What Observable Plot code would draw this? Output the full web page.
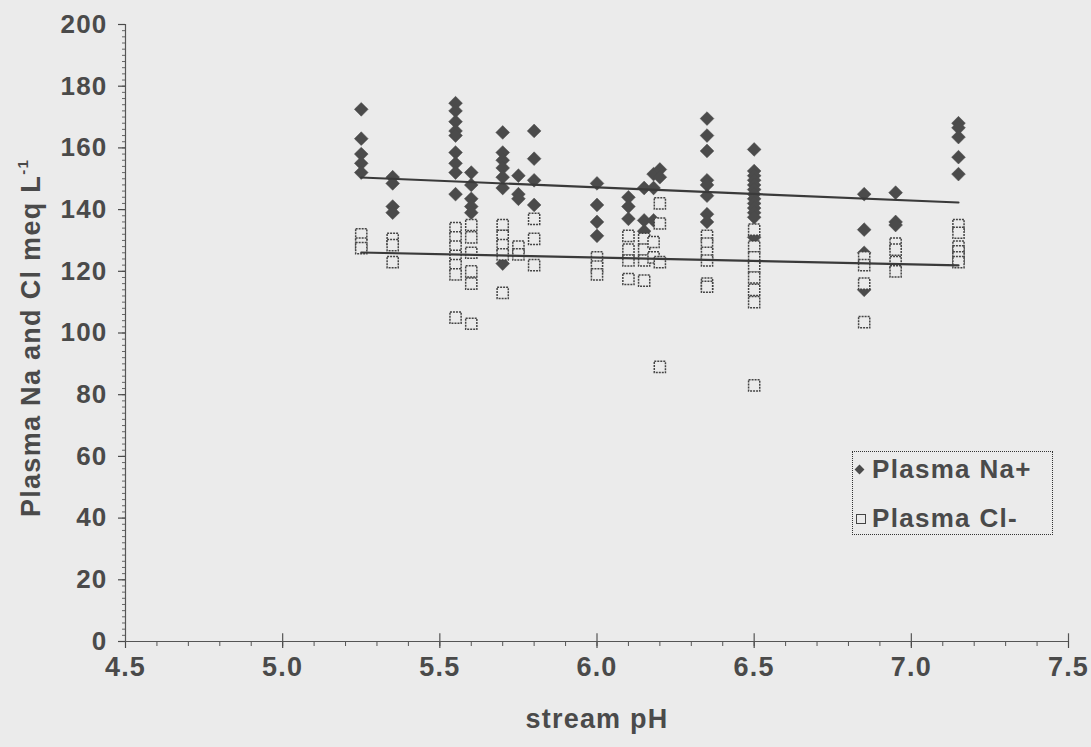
<!DOCTYPE html>
<html>
<head>
<meta charset="utf-8">
<script src="https://cdn.jsdelivr.net/npm/d3@7"></script>
<script src="https://cdn.jsdelivr.net/npm/@observablehq/plot@0.6"></script>
<style>
  html, body { margin: 0; padding: 0; background: #ebebeb; }
  #wrap { position: relative; width: 1091px; height: 747px; font-family: "Liberation Sans", Arial, sans-serif; color: #4a4a4a; }
  #chart svg text { letter-spacing: 1.2px; }
  #ylab { position: absolute; left: 30px; top: 338px; transform: translate(-50%, -50%) rotate(-90deg); white-space: nowrap; font-weight: bold; font-size: 27px; letter-spacing: 1.3px; }
  #ylab sup { font-size: 15px; vertical-align: 12px; }
  #legend { position: absolute; left: 852px; top: 451px; width: 201px; height: 84px; border: 1px dotted #333; box-sizing: border-box; }
  .lrow { position: absolute; left: 0; font-weight: bold; font-size: 26px; letter-spacing: 1.3px; white-space: nowrap; }
  .sym { position: absolute; }
</style>
</head>
<body>
<div id="wrap">
  <div id="chart"></div>
  <div id="ylab">Plasma Na and Cl meq L<sup>-1</sup></div>
  <div id="legend">
    <div class="sym" style="left:3px;top:14px;width:7px;height:7px;background:#4b4b4b;transform:rotate(45deg);"></div>
    <div class="lrow" style="left:19px;top:2px;">Plasma Na+</div>
    <div class="sym" style="left:3px;top:62px;width:8px;height:8px;border:1px solid #444;"></div>
    <div class="lrow" style="left:19px;top:51px;">Plasma Cl-</div>
  </div>
</div>
<script>
// stream pH groups
const phGroups = [5.25, 5.35, 5.55, 5.6, 5.7, 5.75, 5.8, 6.0, 6.1, 6.15, 6.18, 6.2, 6.35, 6.5, 6.85, 6.95, 7.15];
// Plasma Na+ (meq/L) per pH group
const naValues = [
  [172.5, 163, 158, 155, 152],
  [150.5, 148.5, 141, 139],
  [174.5, 172, 168.5, 165.5, 164, 158.5, 155, 152, 145],
  [152, 148, 143.5, 141, 139],
  [165, 158.5, 156, 153.5, 150.5, 147, 122.5],
  [151, 145, 143.5],
  [165.5, 156.5, 149.5, 141.5],
  [148.5, 141.5, 136, 131.5],
  [144, 141, 137],
  [147, 136.5, 133],
  [151.5, 147, 136.5],
  [153, 150.5],
  [169.5, 164, 159, 149.5, 148, 144.5, 138.5, 136],
  [159.5, 152.5, 151, 149.5, 148, 146.5, 145, 143.5, 142, 140.5, 139, 137.5, 131],
  [145, 133.5, 126, 114],
  [145.5, 136, 135],
  [168, 166.5, 163.5, 157, 151.5]
];
// Plasma Cl- (meq/L) per pH group
const clValues = [
  [132, 129, 127.5],
  [130.5, 128.5, 123],
  [134, 131, 128, 125, 122, 119, 105],
  [135, 131, 126, 120, 116, 103],
  [135, 131.5, 128.5, 125.5, 113],
  [128, 125.5],
  [137, 130.5, 122],
  [124.5, 121.5, 119],
  [131.5, 127, 123.5, 117.5],
  [130.5, 127, 123.5, 117],
  [129.5, 124.5],
  [142, 135.5, 123, 89],
  [131.5, 129, 126, 123.5, 116, 115],
  [133.5, 128, 124.5, 121.5, 118, 114, 110, 83],
  [124.5, 122, 116, 103.5],
  [129, 127, 123, 120],
  [135, 132.5, 128, 126.5, 124.5, 123]
];
// trend lines as drawn in the figure (end points)
const trendPH = [5.25, 7.15];
const naTrend = [150.4, 142.3];
const clTrend = [126.1, 121.9];

const xTicks = [4.5, 5.0, 5.5, 6.0, 6.5, 7.0, 7.5];
const yTicks = [0, 20, 40, 60, 80, 100, 120, 140, 160, 180, 200];
const xLabel = "stream pH";

const na = phGroups.flatMap((p, i) => naValues[i].map(v => ({ph: p, v})));
const cl = phGroups.flatMap((p, i) => clValues[i].map(v => ({ph: p, v})));
const naLine = trendPH.map((p, i) => ({ph: p, v: naTrend[i]}));
const clLine = trendPH.map((p, i) => ({ph: p, v: clTrend[i]}));
const xMinor = d3.range(45, 76).map(d => d / 10);
const yMinor = d3.range(0, 201, 2);

const ink = "#4a4a4a";
const plot = Plot.plot({
  width: 1091,
  height: 747,
  marginLeft: 125,
  marginRight: 23,
  marginTop: 24,
  marginBottom: 106,
  style: {background: "transparent", fontFamily: "'Liberation Sans', Arial, sans-serif", color: ink},
  x: {domain: [4.5, 7.5]},
  y: {domain: [0, 200]},
  marks: [
    Plot.axisX(xMinor, {tickSize: 5, text: null, label: null, stroke: "#555", strokeWidth: 1}),
    Plot.axisX(xTicks, {tickSize: 7, tickPadding: 8, tickFormat: d3.format(".1f"), fontSize: 27, fontWeight: "bold", fill: ink, label: null, strokeWidth: 1.2}),
    Plot.ruleX(xTicks.slice(1), {y1: 0, y2: 2.5, stroke: "#555", strokeWidth: 1.2}),
    Plot.axisY(yMinor, {tickSize: 3, text: null, label: null, stroke: "#666", strokeWidth: 1}),
    Plot.axisY(yTicks, {tickSize: 7, tickPadding: 11, fontSize: 26, fontWeight: "bold", fill: ink, label: null, strokeWidth: 1.2}),
    Plot.ruleY([0], {stroke: "#555", strokeWidth: 1.2}),
    Plot.ruleX([4.5], {stroke: "#555", strokeWidth: 1.2}),
    Plot.dot(na, {x: "ph", y: "v", symbol: "diamond2", r: 6.2, fill: "#4b4b4b", stroke: "#4b4b4b", strokeWidth: 0.5}),
    Plot.dot(cl, {x: "ph", y: "v", symbol: "square", r: 6.3, fill: "#ebebeb", stroke: "#444", strokeWidth: 1.5, strokeDasharray: "2,1"}),
    Plot.line(naLine, {x: "ph", y: "v", stroke: "#3a3a3a", strokeWidth: 2.2}),
    Plot.line(clLine, {x: "ph", y: "v", stroke: "#3a3a3a", strokeWidth: 2.2}),
    Plot.text([xLabel], {frameAnchor: "bottom", dy: 86, fontSize: 27, fontWeight: "bold", fill: ink})
  ]
});
document.getElementById("chart").appendChild(plot);
</script>
</body>
</html>
